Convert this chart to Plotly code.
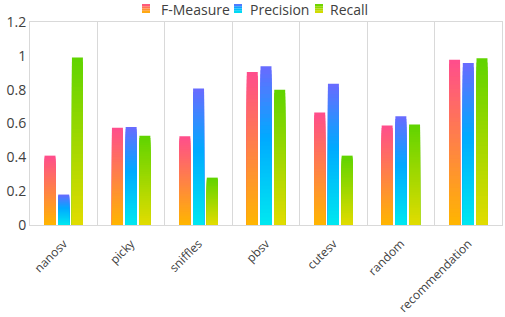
import plotly.graph_objects as go

categories = ["nanosv", "picky", "sniffles", "pbsv", "cutesv", "random", "recommendation"]
f_measure = [0.41, 0.575, 0.525, 0.905, 0.665, 0.588, 0.977]
precision = [0.18, 0.58, 0.807, 0.938, 0.835, 0.643, 0.957]
recall = [0.99, 0.527, 0.28, 0.80, 0.41, 0.594, 0.985]

series = [
    ("F-Measure", f_measure, [(0.0, (255, 77, 141)), (1.0, (255, 182, 0))]),
    ("Precision", precision, [(0.0, (106, 106, 255)), (0.45, (0, 170, 255)), (1.0, (0, 232, 240))]),
    ("Recall", recall, [(0.0, (95, 212, 0)), (1.0, (226, 220, 0))]),
]


def interp(stops, t):
    for (t0, c0), (t1, c1) in zip(stops[:-1], stops[1:]):
        if t0 <= t <= t1:
            f = (t - t0) / (t1 - t0) if t1 > t0 else 0
            return "rgb(%d,%d,%d)" % tuple(round(a + (b - a) * f) for a, b in zip(c0, c1))
    c = stops[-1][1]
    return "rgb(%d,%d,%d)" % c


W, H = 505, 317
ML, MR, MT, MB = 30, 3, 22, 92
PW, PH = W - ML - MR, H - MT - MB


def px(x):
    return (x - ML) / PW


def py(y):
    return (H - MB - y) / PH


N = 40
fig = go.Figure()
for name, vals, stops in series:
    for i in range(N):
        frac = 1 - i / N
        t = (i + 0.5) / N
        fig.add_trace(go.Bar(
            x=categories,
            y=[v * frac for v in vals],
            name=name,
            offsetgroup=name,
            legendgroup=name,
            showlegend=False,
            marker=dict(color=interp(stops, t), line=dict(width=0)),
            hoverinfo="skip",
        ))

# custom compact legend (layout elements)
legend_pos = [(142, 159), (234, 248), (315, 328)]
shapes = []
annotations = []
for (name, vals, stops), (sx, tx) in zip(series, legend_pos):
    S = 4
    for k in range(S):
        y0 = 4 + k * 9 / S
        y1 = 4 + (k + 1) * 9 / S
        shapes.append(dict(type="rect", xref="paper", yref="paper",
                           x0=px(sx), x1=px(sx + 8), y0=py(y1), y1=py(y0),
                           fillcolor=interp(stops, (k + 0.5) / S), line=dict(width=0)))
    annotations.append(dict(text=name, xref="paper", yref="paper", x=px(tx), y=py(9.5),
                            xanchor="left", yanchor="middle", showarrow=False,
                            font=dict(size=14, color="#404040")))

fig.update_layout(
    width=W, height=H,
    margin=dict(l=ML, r=MR, t=MT, b=MB, autoexpand=False),
    barmode="group",
    bargap=0.39,
    bargroupgap=0.2,
    plot_bgcolor="white",
    paper_bgcolor="white",
    showlegend=False,
    font=dict(family="Open Sans, Noto Sans, sans-serif", size=14, color="#404040"),
    shapes=shapes,
    annotations=annotations,
    xaxis=dict(
        type="category", tickson="boundaries", showgrid=True, gridcolor="#d9d9d9", gridwidth=1,
        showline=True, linecolor="#d9d9d9", mirror=True, tickangle=-45, ticks="",
        ticklabelstandoff=6,
        tickfont=dict(size=12, color="#404040"),
    ),
    yaxis=dict(
        range=[0, 1.2], dtick=0.2, showgrid=False, zeroline=False,
        showline=True, linecolor="#d9d9d9", mirror=True, ticks="",
        tickfont=dict(size=14, color="#404040"),
    ),
)

fig.write_html("out.html", config={"displayModeBar": False},
               post_script="document.body.style.margin='0';document.body.style.overflow='hidden';")
